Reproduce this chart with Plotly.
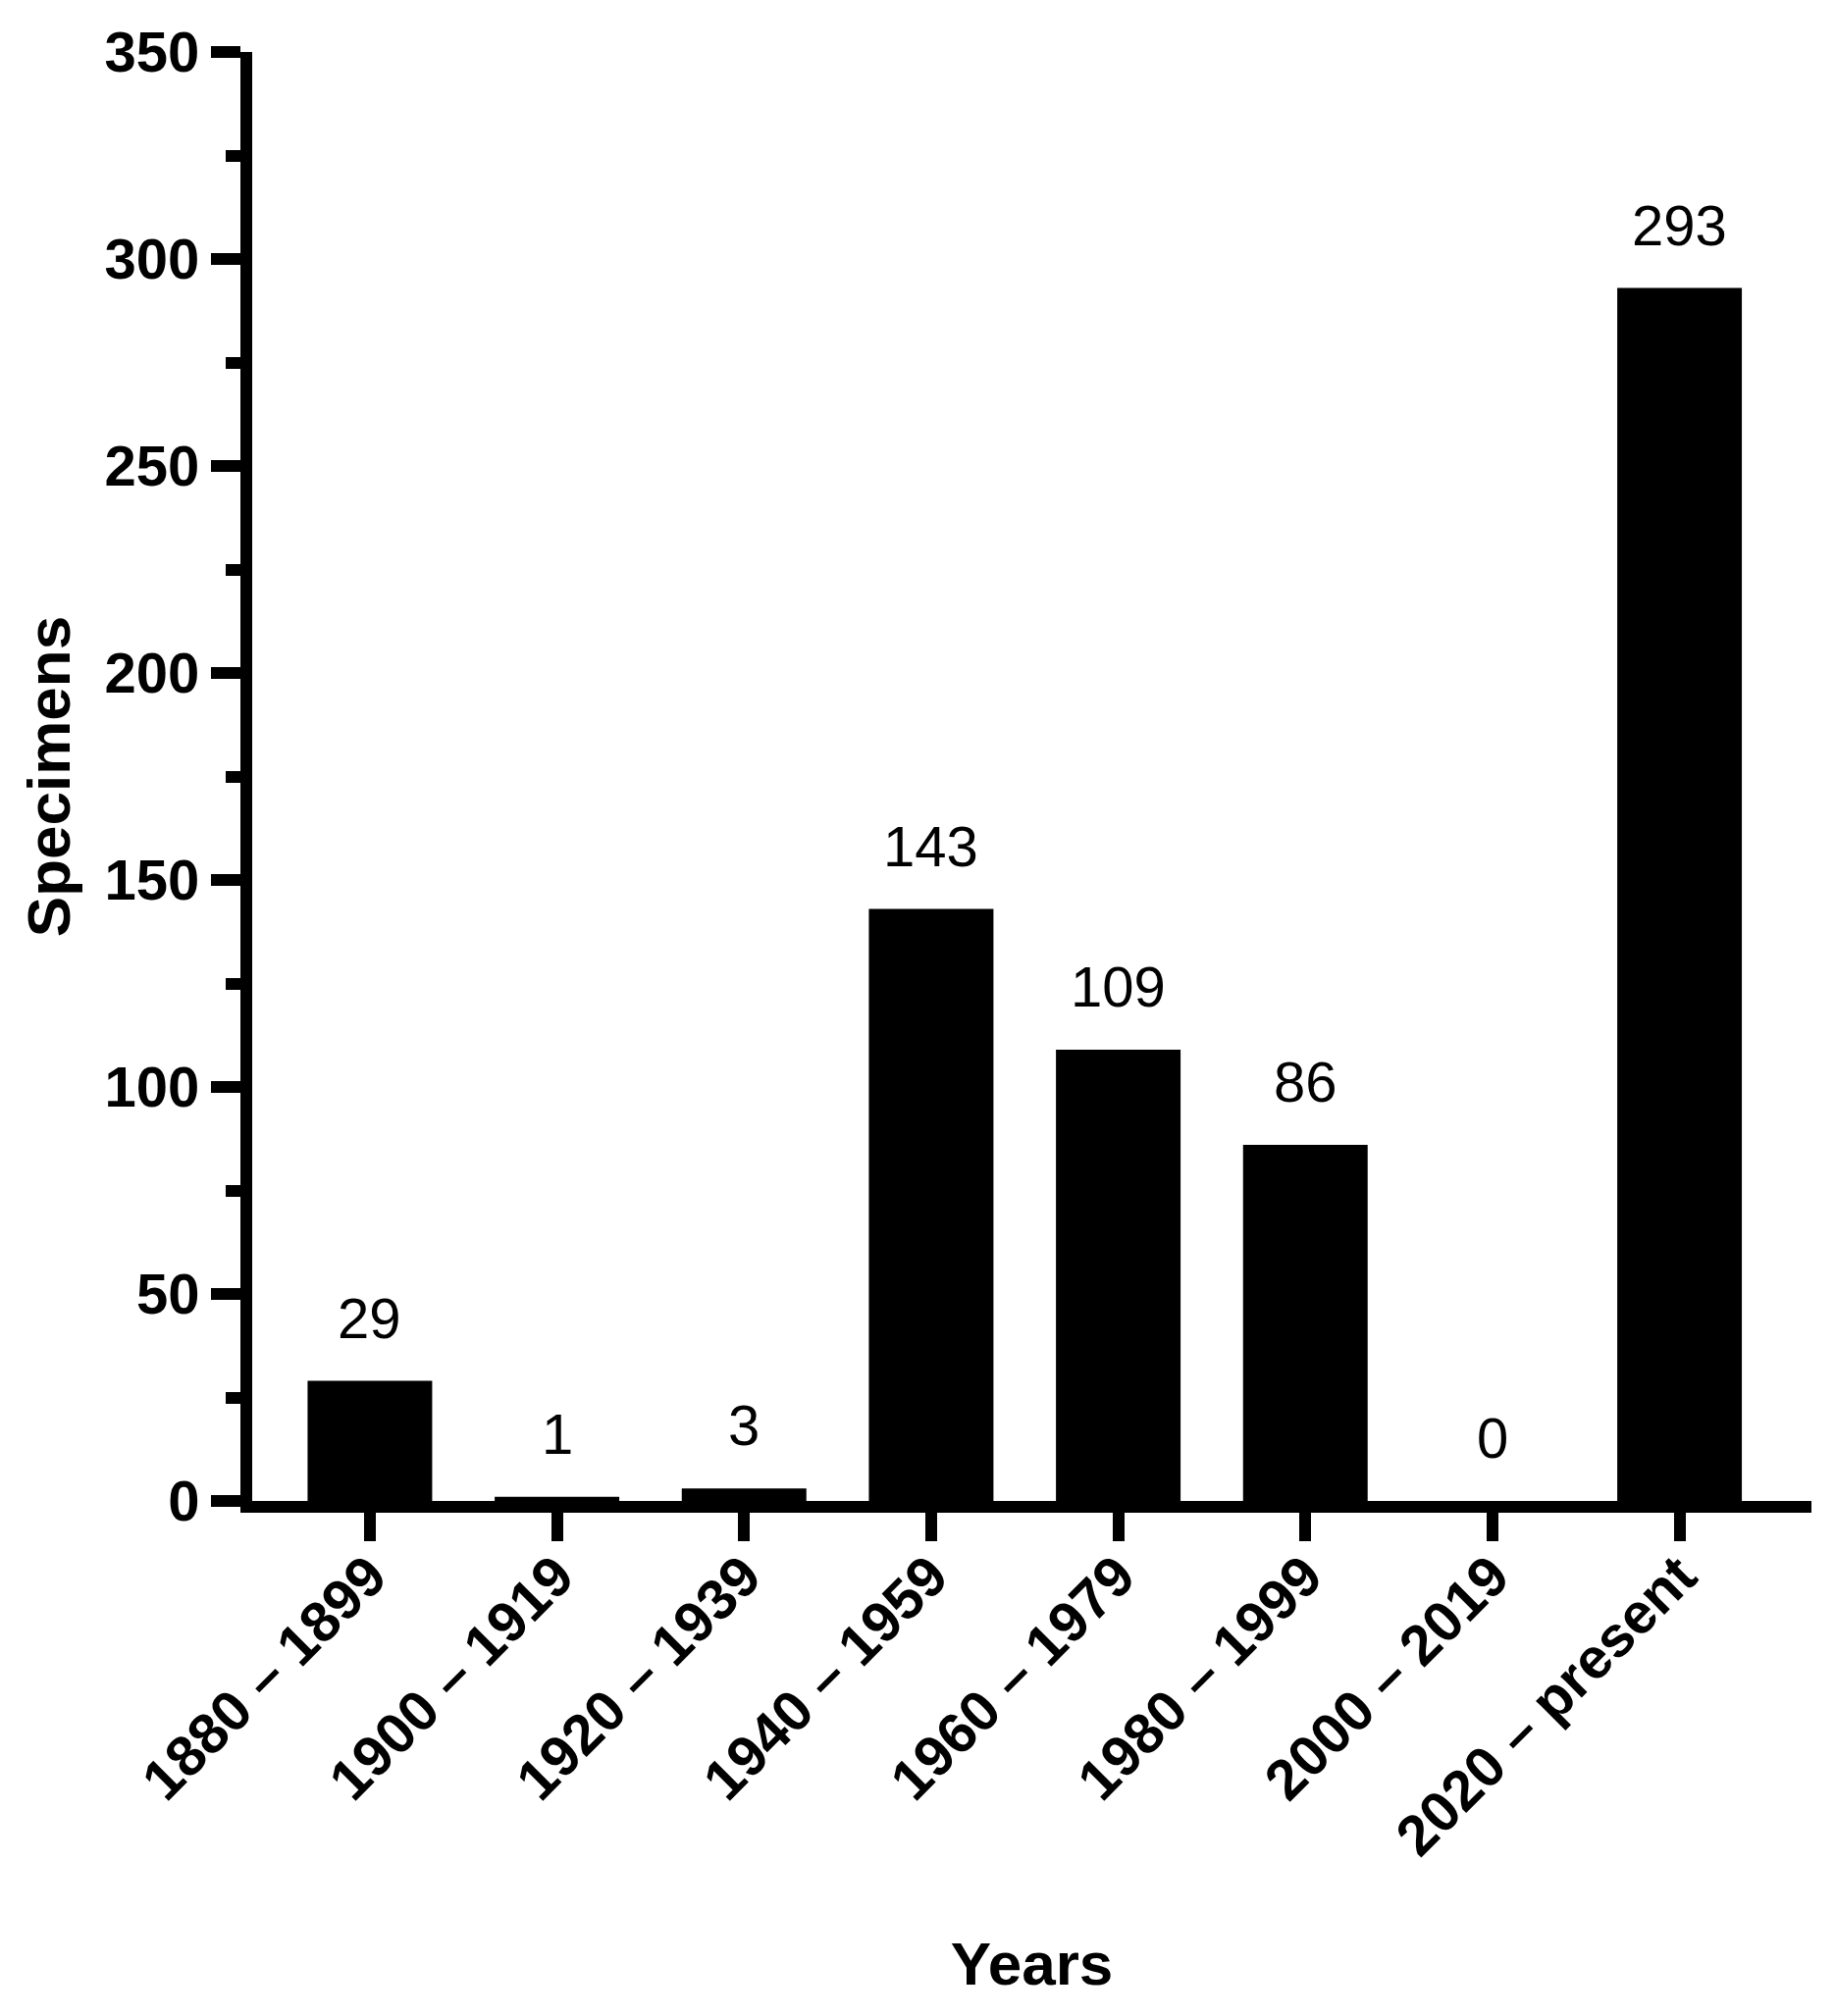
import plotly.graph_objects as go

categories = ["1880 – 1899", "1900 – 1919", "1920 – 1939", "1940 – 1959",
              "1960 – 1979", "1980 – 1999", "2000 – 2019", "2020 – present"]
specimens = [29, 1, 3, 143, 109, 86, 0, 293]
y_ticks = [0, 50, 100, 150, 200, 250, 300, 350]

FONT = "Liberation Sans, Arial, Helvetica, sans-serif"

fig = go.Figure()
fig.add_trace(go.Bar(
    x=list(range(len(categories))),
    y=specimens,
    marker=dict(color="black", line=dict(width=0)),
    width=0.666,
    hoverinfo="skip",
))

for i, v in enumerate(specimens):
    fig.add_annotation(
        x=i, y=v, text=str(v), showarrow=False,
        yanchor="bottom", xanchor="center", yshift=30,
        font=dict(family=FONT, size=58, color="black"),
    )

# page body has a default 8px margin; compensate in the plot margins
fig.update_layout(
    width=1870, height=2055,
    margin=dict(l=249, r=32, t=42, b=533),
    paper_bgcolor="white", plot_bgcolor="white",
    showlegend=False,
    font=dict(family=FONT, color="black"),
)

fig.update_xaxes(
    range=[-0.629, 7.705],
    tickmode="array",
    tickvals=list(range(len(categories))),
    ticktext=categories,
    tickangle=-45,
    tickfont=dict(family=FONT, size=58, color="black", weight="bold"),
    ticklabelstandoff=-22,
    showline=True, linecolor="black", linewidth=12,
    ticks="outside", ticklen=29, tickwidth=12, tickcolor="black",
    showgrid=False, zeroline=False,
    title=dict(text="Years", font=dict(family=FONT, size=62, color="black", weight="bold"),
               standoff=82),
)

fig.update_yaxes(
    range=[0, 350],
    tickmode="array",
    tickvals=y_ticks,
    tickfont=dict(family=FONT, size=58, color="black", weight="bold"),
    showline=True, linecolor="black", linewidth=12,
    ticks="outside", ticklen=30, tickwidth=12, tickcolor="black",
    minor=dict(dtick=25, tick0=0, ticks="outside", ticklen=15, tickwidth=12, tickcolor="black", showgrid=False),
    showgrid=False, zeroline=False,
    title=dict(text="Specimens", font=dict(family=FONT, size=62, color="black", weight="bold"),
               standoff=20),
)

fig.write_html("out.html")
